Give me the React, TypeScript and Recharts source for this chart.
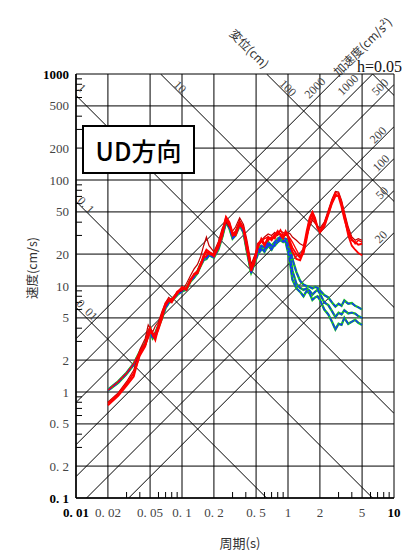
import { LineChart, Line, XAxis, YAxis, CartesianGrid, ReferenceLine } from "recharts";

// periods (s)
const periods = [
  0.02, 0.025, 0.03, 0.035, 0.04, 0.045, 0.048, 0.05, 0.053, 0.056, 0.06, 0.065, 0.07, 0.075, 0.08, 0.09,
  0.1, 0.11, 0.12, 0.13, 0.14, 0.15, 0.16, 0.17, 0.18, 0.2, 0.22, 0.24, 0.26, 0.28, 0.3, 0.32, 0.35, 0.38,
  0.41, 0.45, 0.48, 0.52, 0.56, 0.6, 0.65, 0.7, 0.75, 0.8, 0.85, 0.9, 0.95, 1.0, 1.05, 1.1, 1.2, 1.3, 1.4,
  1.5, 1.6, 1.7, 1.8, 1.9, 2.0, 2.2, 2.4, 2.6, 2.8, 3.0, 3.2, 3.4, 3.7, 4.0, 4.3, 4.6, 5.0,
];

// pseudo velocity response (cm/s)
const red1 = [
  0.75, 0.92, 1.15, 1.4, 2.3, 2.8, 3.3, 3.7, 3.5, 3.1, 4.1, 5.5, 6.9, 7.3, 7.0, 8.8, 9.6, 9.2, 11.5, 12.8,
  13.2, 16.0, 19.5, 22, 21, 19, 23, 30, 44, 39, 30, 31, 40, 34, 22, 13.8, 17, 25, 27, 24, 29, 27, 30, 33,
  30, 28, 32, 29, 24, 21, 18, 17.5, 21, 30, 42, 49, 42, 35, 33, 38, 48, 62, 73, 70, 56, 43, 32, 27, 26,
  24.5, 25,
];
const red2 = [
  1.04, 1.25, 1.5, 1.85, 2.4, 2.9, 3.8, 4.1, 3.4, 3.6, 4.3, 5.3, 6.5, 7.2, 7.6, 8.6, 9.3, 9.6, 11.5, 12.5,
  14, 16.5, 18.5, 19, 21, 20, 24, 31, 42, 37, 31, 33, 41, 36, 25, 15, 18, 24, 26, 28, 29, 28, 31, 31, 34,
  30, 31, 30, 28, 26, 22, 19, 20, 27, 38, 45, 40, 36, 33, 39, 50, 64, 76, 75, 62, 48, 34, 28, 25, 27, 26,
];
const red3 = [
  0.78, 0.95, 1.2, 1.5, 2.2, 2.7, 3.4, 3.9, 3.6, 3.3, 3.9, 5.0, 6.6, 7.5, 7.2, 8.4, 9.8, 9.4, 11.0, 13.0,
  13.8, 15.5, 18.5, 21, 20, 19.5, 25, 33, 45, 40, 32, 30, 38, 35, 24, 14.5, 16, 23, 28, 25, 27, 29, 28, 32,
  31, 29, 33, 30, 26, 23, 20, 18.5, 23, 33, 44, 50, 44, 36, 32, 36, 47, 60, 70, 72, 60, 45, 30, 24, 22,
  20.5, 19.5,
];
const darkRed = [
  0.8, 0.98, 1.25, 1.6, 2.5, 3.2, 4.3, 4.0, 3.7, 4.2, 4.6, 5.8, 7.0, 7.8, 7.4, 8.8, 9.0, 10.5, 12.5, 14.5,
  16, 19, 24, 29, 24, 21, 26, 35, 40, 36, 33, 36, 44, 38, 27, 16, 19, 23, 27, 29, 31, 30, 32, 30, 33, 32,
  30, 32, 31, 29, 27, 25, 24, 29, 36, 42, 39, 37, 35, 40, 52, 66, 78, 77, 64, 50, 36, 29, 27, 28, 27,
];
const blue1 = [
  1.04, 1.24, 1.5, 1.82, 2.35, 2.85, 3.6, 3.9, 3.3, 3.5, 4.2, 5.2, 6.4, 7.0, 7.3, 8.4, 9.1, 9.4, 11.2, 12.2,
  13.5, 16, 18, 18.5, 20, 19, 23, 30, 41, 36, 29, 31, 39, 33, 22, 13.2, 16.5, 21, 23, 21, 24, 22, 25, 27,
  28, 27, 26, 21, 16, 11.5, 9.5, 8.8, 8.0, 9.0, 8.5, 7.4, 7.8, 8.0, 7.4, 6.0, 5.4, 4.6, 3.9, 4.4, 4.3, 5.0,
  4.4, 4.6, 4.8, 4.5, 4.3,
];
const blue2 = [
  1.03, 1.22, 1.48, 1.8, 2.3, 2.8, 3.5, 3.8, 3.2, 3.4, 4.1, 5.0, 6.2, 6.9, 7.2, 8.2, 8.9, 9.2, 11.0, 12.0,
  13.2, 15.5, 17.5, 18, 19.5, 18.5, 22, 29, 40, 35, 28, 30, 37, 32, 21, 13.5, 16, 20, 22, 22, 25, 23, 24,
  26, 27, 26, 27, 24, 19, 14, 10.5, 9.6, 9.2, 9.5, 9.0, 8.3, 8.8, 9.2, 8.5, 7.0, 6.6, 5.8, 5.1, 5.6, 5.4,
  5.9, 5.5, 5.6, 5.5, 5.2, 5.0,
];
const blue3 = [
  1.05, 1.26, 1.52, 1.86, 2.4, 2.9, 3.7, 4.0, 3.4, 3.6, 4.3, 5.3, 6.5, 7.1, 7.5, 8.5, 9.2, 9.5, 11.3, 12.4,
  13.8, 16.2, 18.2, 18.8, 20.5, 19.5, 23.5, 30, 42, 37, 30, 32, 40, 34, 23, 14, 17, 22, 24, 23, 26, 24, 26,
  28, 29, 28, 28, 27, 23, 18, 13.5, 11.2, 10.3, 10.0, 9.8, 9.5, 9.8, 9.6, 9.1, 8.2, 7.8, 7.0, 6.4, 6.8, 6.5,
  7.3, 6.8, 6.9, 6.5, 6.3, 6.0,
];

const xTicks = [0.01, 0.02, 0.05, 0.1, 0.2, 0.5, 1, 2, 5, 10];
const yTicks = [0.1, 0.2, 0.5, 1, 2, 5, 10, 20, 50, 100, 200, 500, 1000];
const xMinor = [0.03, 0.04, 0.06, 0.07, 0.08, 0.09, 0.3, 0.4, 0.6, 0.7, 0.8, 0.9, 3, 4, 6, 7, 8, 9];
const yMinor = [
  0.3, 0.4, 0.6, 0.7, 0.8, 0.9, 3, 4, 6, 7, 8, 9, 30, 40, 60, 70, 80, 90, 300, 400, 600, 700, 800, 900,
];
const dispLines = [0.01, 0.1, 1, 10, 100, 1000]; // cm
const accLines = [20, 50, 100, 200, 500, 1000, 2000]; // cm/s2

const T_MIN = 0.01, T_MAX = 10, V_MIN = 0.1, V_MAX = 1000;
const MINOR_LEN = 6;

const data = periods.map((T, i) => ({
  T,
  red1: red1[i],
  red2: red2[i],
  red3: red3[i],
  darkRed: darkRed[i],
  blue1: blue1[i],
  blue2: blue2[i],
  blue3: blue3[i],
}));

// V = c * T^p clipped to the plot box
function clipped(c: number, p: number) {
  const t1 = Math.pow(V_MIN / c, 1 / p);
  const t2 = Math.pow(V_MAX / c, 1 / p);
  const lo = Math.max(T_MIN, Math.min(t1, t2));
  const hi = Math.min(T_MAX, Math.max(t1, t2));
  if (lo >= hi) return null;
  return [
    { x: lo, y: c * Math.pow(lo, p) },
    { x: hi, y: c * Math.pow(hi, p) },
  ];
}

const diagSegments = [
  ...dispLines.map((d) => clipped(2 * Math.PI * d, -1)),
  ...accLines.map((a) => clipped(a / (2 * Math.PI), 1)),
].filter(Boolean) as { x: number; y: number }[][];

const SERIF = "'Liberation Serif', 'DejaVu Serif', serif";
const JP = "'Noto Sans CJK JP', sans-serif";

function fmt(v: number) {
  return v < 1 ? "0. " + String(v).slice(2) : String(v);
}

function XTick(props: any) {
  const { x, y, payload } = props;
  const v = payload.value;
  const bold = v === 0.01 || v === 10;
  return (
    <text x={x} y={y + 19} textAnchor="middle" fontFamily={SERIF} fontSize={13}
      fontWeight={bold ? 700 : 400} fill={bold ? "#000" : "#444"}>
      {fmt(v)}
    </text>
  );
}

function YTick(props: any) {
  const { x, y, payload } = props;
  const v = payload.value;
  const bold = v === 0.1 || v === 1000;
  return (
    <text x={x - 7} y={y + 4.5} textAnchor="end" fontFamily={SERIF} fontSize={13}
      fontWeight={bold ? 700 : 400} fill={bold ? "#000" : "#444"}>
      {fmt(v)}
    </text>
  );
}

// short inward tick from the left edge
function LeftTick(p: any) {
  const x0 = Math.min(p.x1, p.x2);
  return <line x1={x0} y1={p.y1} x2={x0 + MINOR_LEN} y2={p.y1} stroke="#000" strokeWidth={1} />;
}

// short inward tick from the bottom edge
function BottomTick(p: any) {
  const y0 = Math.max(p.y1, p.y2);
  return <line x1={p.x1} y1={y0} x2={p.x1} y2={y0 - MINOR_LEN} stroke="#000" strokeWidth={1} />;
}

function Rot({ x, y, angle, children, size = 12, font = SERIF, fill = "#444" }: any) {
  return (
    <text x={x} y={y} transform={`rotate(${angle} ${x} ${y})`} textAnchor="middle"
      dominantBaseline="central" fontFamily={font} fontSize={size} fill={fill}>
      {children}
    </text>
  );
}

export default function App() {
  return (
    <div style={{ position: "absolute", left: 0, top: 0, width: 407, height: 550, background: "#fff" }}>
      <LineChart width={407} height={550} data={data} margin={{ top: 74, right: 13, bottom: 22, left: 16 }}>
        <CartesianGrid stroke="#000" strokeWidth={1} />
        <XAxis dataKey="T" type="number" scale="log" domain={[T_MIN, T_MAX]} allowDataOverflow
          ticks={xTicks} interval={0} tickLine={false} tickSize={0} tickMargin={0} height={30}
          axisLine={{ stroke: "#000", strokeWidth: 1.5 }} tick={(p: any) => <XTick {...p} />} />
        <YAxis type="number" scale="log" domain={[V_MIN, V_MAX]} allowDataOverflow
          ticks={yTicks} interval={0} tickLine={false} tickSize={0} tickMargin={0} width={60}
          axisLine={{ stroke: "#000", strokeWidth: 1.5 }} tick={(p: any) => <YTick {...p} />} />
        {yMinor.map((v) => (
          <ReferenceLine key={"ym" + v} y={v} shape={(p: any) => <LeftTick {...p} />} />
        ))}
        {xMinor.map((v) => (
          <ReferenceLine key={"xm" + v} x={v} shape={(p: any) => <BottomTick {...p} />} />
        ))}
        {diagSegments.map((seg, i) => (
          <ReferenceLine key={i} segment={seg} stroke="#000" strokeWidth={1} ifOverflow="hidden" />
        ))}
        {(["blue1", "blue2", "blue3"] as const).map((k) => (
          <Line key={"g" + k} dataKey={k} stroke="#19c819" strokeWidth={2.4} dot={false}
            isAnimationActive={false} />
        ))}
        {(["blue1", "blue2", "blue3"] as const).map((k) => (
          <Line key={k} dataKey={k} stroke="#1432ff" strokeWidth={1.4} strokeDasharray="5 1.5" dot={false}
            isAnimationActive={false} />
        ))}
        <Line dataKey="darkRed" stroke="#c00000" strokeWidth={1.2} dot={false} isAnimationActive={false} />
        <Line dataKey="red2" stroke="#ff0000" strokeWidth={1.4} dot={false} isAnimationActive={false} />
        <Line dataKey="red3" stroke="#ff0000" strokeWidth={1.8} dot={false} isAnimationActive={false} />
        <Line dataKey="red1" stroke="#ff0000" strokeWidth={2} dot={false} isAnimationActive={false} />
      </LineChart>

      <svg width={407} height={550} style={{ position: "absolute", left: 0, top: 0, pointerEvents: "none" }}>
        <rect x={83} y={126} width={111} height={47} fill="#fff" stroke="#000" strokeWidth={2} />
        <text x={138.5} y={161} textAnchor="middle" fontFamily={JP} fontSize={25} fontWeight={500} fill="#000">
          UD方向
        </text>
        <text x={31} y={268} transform="rotate(-90 31 268)" textAnchor="middle" dominantBaseline="central"
          fontFamily={JP} fontSize={12.5} fill="#333">
          速度(cm/s)
        </text>
        <text x={240} y={542} textAnchor="middle" dominantBaseline="central" fontFamily={JP} fontSize={13} fill="#333">
          周期(s)
        </text>
        <Rot x={250} y={48} angle={45} font={JP} size={12} fill="#333">変位(cm)</Rot>
        <Rot x={362} y={46} angle={-45} font={JP} size={12} fill="#333">加速度(cm/s²)</Rot>
        <text x={402} y={72} textAnchor="end" fontFamily={SERIF} fontSize={16} fill="#111">h=0.05</text>

        <Rot x={82} y={88} angle={45}>1</Rot>
        <Rot x={86} y={205} angle={45}>0. 1</Rot>
        <Rot x={87} y={310} angle={45}>0. 01</Rot>
        <Rot x={180} y={87} angle={45}>10</Rot>
        <Rot x={288} y={88} angle={45}>100</Rot>

        <Rot x={315} y={88} angle={-45}>2000</Rot>
        <Rot x={348} y={85} angle={-45}>1000</Rot>
        <Rot x={380} y={87} angle={-45}>500</Rot>
        <Rot x={378} y={135} angle={-45}>200</Rot>
        <Rot x={381} y={163} angle={-45}>100</Rot>
        <Rot x={382} y={193} angle={-45}>50</Rot>
        <Rot x={381} y={237} angle={-45}>20</Rot>
      </svg>
    </div>
  );
}
